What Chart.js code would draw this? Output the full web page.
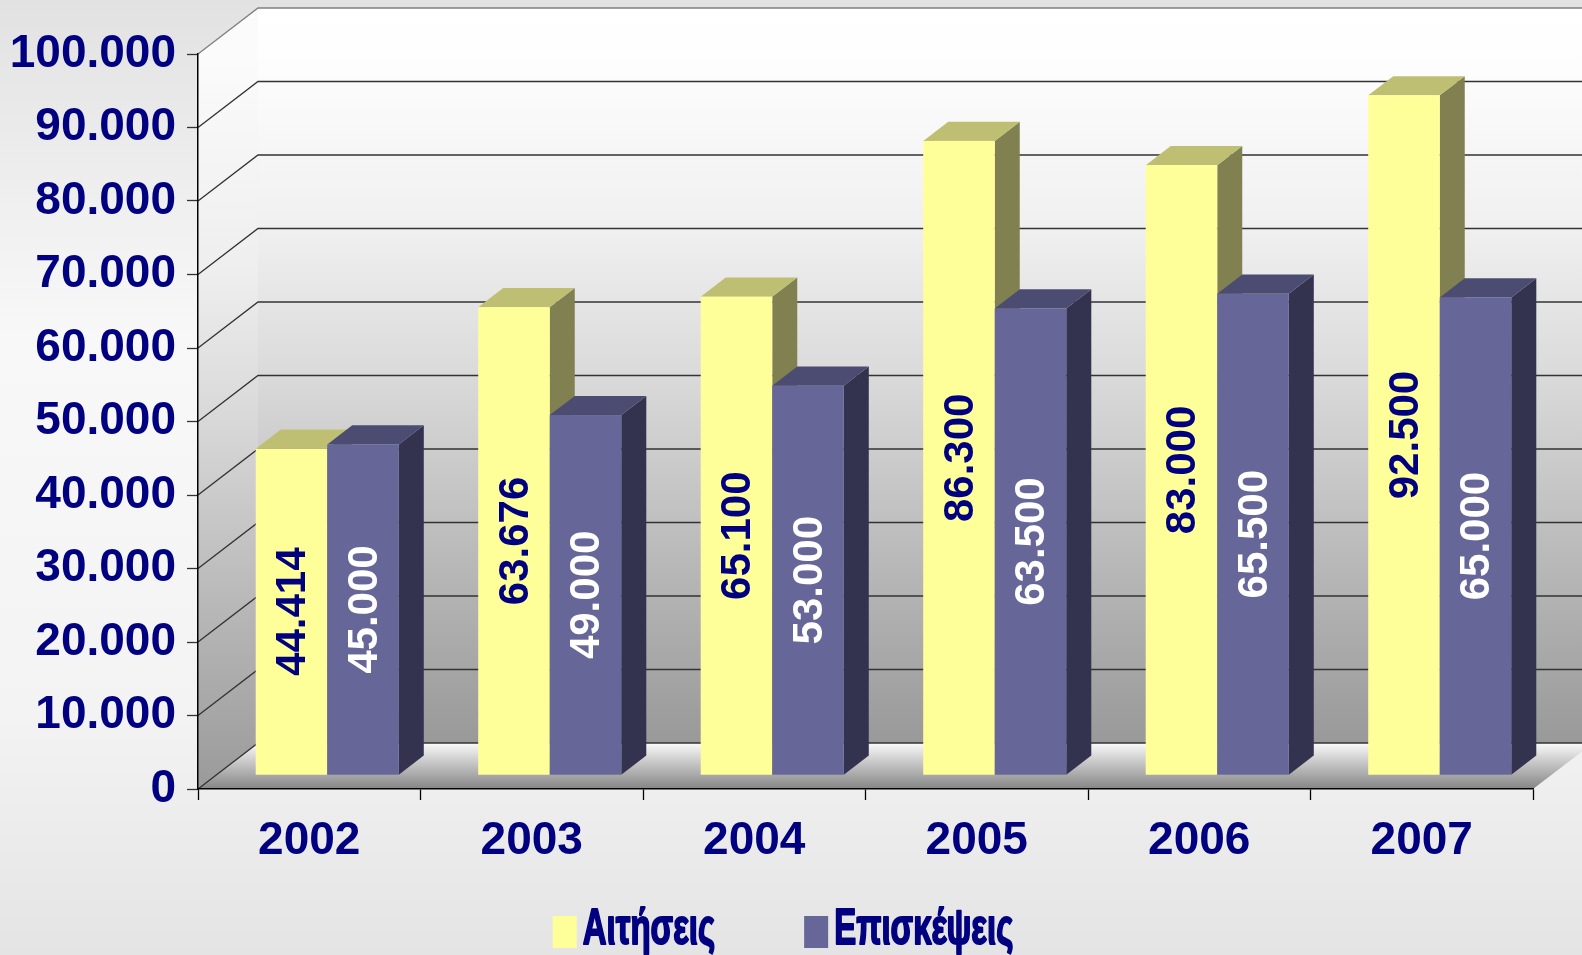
<!DOCTYPE html>
<html lang="el">
<head>
<meta charset="utf-8">
<title>Αιτήσεις - Επισκέψεις</title>
<script src="https://cdn.jsdelivr.net/npm/chart.js@4.4.1/dist/chart.umd.min.js"></script>
<style>
  html, body { margin: 0; padding: 0; overflow: hidden; background: #eeeeee; }
  canvas { display: block; }
</style>
</head>
<body>
<canvas id="grafima" width="1582" height="955"></canvas>
<script>
// --- Δεδομένα ---
const years = ['2002', '2003', '2004', '2005', '2006', '2007'];
const aitiseis = [44414, 63676, 65100, 86300, 83000, 92500];
const episkepseis = [45000, 49000, 53000, 63500, 65500, 65000];
const yTicks = [0, 10000, 20000, 30000, 40000, 50000, 60000, 70000, 80000, 90000, 100000];

// --- Στυλ ---
const NAVY = '#000080';
const FONT = "'Liberation Sans', Arial, sans-serif";
const yellow = { front: '#ffff99', top: '#bfbf73', side: '#808050', text: NAVY };
const purple = { front: '#666699', top: '#4c4c73', side: '#333350', text: '#ffffff' };
const depth = { dx: 60, dy: -46 };      // βάθος τοίχων
const barShift = 18;                    // πόσο πίσω στέκονται οι μπάρες
const barDepth = 25;

const fmt = v => String(v).replace(/\B(?=(\d{3})+(?!\d))/g, '.');
const k = depth.dy / depth.dx;

function box(ctx, x1, x2, top, base, c) {
    const ox = barShift, oy = barShift * k;
    const dx = barDepth, dy = barDepth * k;
    x1 += ox; x2 += ox; top += oy; base += oy;
    // πλαϊνή
    ctx.fillStyle = c.side;
    ctx.beginPath();
    ctx.moveTo(x2, top); ctx.lineTo(x2 + dx, top + dy);
    ctx.lineTo(x2 + dx, base + dy); ctx.lineTo(x2, base);
    ctx.closePath(); ctx.fill();
    // πάνω
    ctx.fillStyle = c.top;
    ctx.beginPath();
    ctx.moveTo(x1, top); ctx.lineTo(x1 + dx, top + dy);
    ctx.lineTo(x2 + dx, top + dy); ctx.lineTo(x2, top);
    ctx.closePath(); ctx.fill();
    // μπροστά
    ctx.fillStyle = c.front;
    ctx.fillRect(x1, top, x2 - x1, base - top);
    return { cx: (x1 + x2) / 2, cy: (top + base) / 2 };
}

const skini = {
    id: 'skini',
    beforeDraw(chart) {
        const ctx = chart.ctx;
        const { left, right, top, bottom } = chart.chartArea;
        const y = chart.scales.y;
        ctx.save();

        // φόντο
        let g = ctx.createLinearGradient(0, 0, 0, chart.height);
        g.addColorStop(0, '#e2e2e2');
        g.addColorStop(0.35, '#f8f8f8');
        g.addColorStop(0.75, '#f3f3f3');
        g.addColorStop(1, '#e4e4e4');
        ctx.fillStyle = g;
        ctx.fillRect(0, 0, chart.width, chart.height);

        const bx = left + depth.dx;
        const bTop = top + depth.dy, bBot = bottom + depth.dy;

        // τοίχοι
        g = ctx.createLinearGradient(0, bTop, 0, bBot);
        g.addColorStop(0, '#ffffff');
        g.addColorStop(0.08, '#fdfdfd');
        g.addColorStop(0.3, '#f0f0f0');
        g.addColorStop(0.5, '#dadada');
        g.addColorStop(0.75, '#b9b9b9');
        g.addColorStop(1, '#999999');
        ctx.fillStyle = g;
        ctx.fillRect(bx, bTop, right + depth.dx - bx, bBot - bTop);

        g = ctx.createLinearGradient(0, top, 0, bottom);
        g.addColorStop(0, '#fbfbfb');
        g.addColorStop(0.3, '#eeeeee');
        g.addColorStop(0.5, '#d8d8d8');
        g.addColorStop(0.75, '#b8b8b8');
        g.addColorStop(1, '#9a9a9a');
        ctx.fillStyle = g;
        ctx.beginPath();
        ctx.moveTo(left, top); ctx.lineTo(bx, bTop);
        ctx.lineTo(bx, bBot); ctx.lineTo(left, bottom);
        ctx.closePath(); ctx.fill();

        // δάπεδο
        g = ctx.createLinearGradient(0, bBot, 0, bottom);
        g.addColorStop(0, '#fafafa');
        g.addColorStop(0.35, '#d0d0d0');
        g.addColorStop(1, '#858585');
        ctx.fillStyle = g;
        ctx.beginPath();
        ctx.moveTo(left, bottom); ctx.lineTo(right, bottom);
        ctx.lineTo(right + depth.dx, bBot); ctx.lineTo(bx, bBot);
        ctx.closePath(); ctx.fill();

        // γραμμές πλέγματος
        yTicks.forEach(v => {
            const yy = y.getPixelForValue(v);
            ctx.strokeStyle = v === yTicks[yTicks.length - 1] ? '#808080' : '#333333';
            ctx.lineWidth = 1.3;
            ctx.beginPath();
            ctx.moveTo(left, yy);
            ctx.lineTo(bx, yy + depth.dy);
            ctx.lineTo(right + depth.dx, yy + depth.dy);
            ctx.stroke();
        });
        ctx.restore();
    },
    beforeDatasetsDraw(chart) {
        const ctx = chart.ctx;
        const sets = [yellow, purple];
        ctx.save();
        years.forEach((yr, i) => {
            sets.forEach((c, d) => {
                const el = chart.getDatasetMeta(d).data[i];
                const x1 = el.x - el.width / 2, x2 = el.x + el.width / 2;
                const p = box(ctx, x1, x2, el.y, el.base, c);
                const val = chart.data.datasets[d].data[i];
                ctx.save();
                ctx.translate(p.cx, p.cy);
                ctx.rotate(-Math.PI / 2);
                ctx.fillStyle = c.text;
                ctx.font = 'bold 42px ' + FONT;
                ctx.textAlign = 'center';
                ctx.textBaseline = 'middle';
                ctx.fillText(fmt(val), 0, 2);
                ctx.restore();
            });
        });
        ctx.restore();
        return false;
    },
    afterDraw(chart) {
        // υπόμνημα (στενή γραμματοσειρά -> οριζόντια συμπίεση)
        const ctx = chart.ctx;
        const squeeze = 0.66;
        ctx.save();
        ctx.font = 'bold 50px ' + FONT;
        ctx.textBaseline = 'alphabetic';
        const items = chart.data.datasets.map((ds, d) => ({ label: ds.label, color: [yellow, purple][d].front }));
        const widths = items.map(it => ctx.measureText(it.label).width * squeeze);
        const total = items.length * 30 + widths.reduce((a, b) => a + b, 0) + 89;
        let x = chart.width / 2 - total / 2 - 8;
        items.forEach((it, j) => {
            ctx.fillStyle = it.color;
            ctx.fillRect(x, 916, 24, 32);
            ctx.save();
            ctx.translate(x + 30, 944);
            ctx.scale(squeeze, 1);
            ctx.fillStyle = NAVY;
            ctx.strokeStyle = NAVY;
            ctx.lineWidth = 2;
            ctx.lineJoin = 'round';
            ctx.strokeText(it.label, 0, 0);
            ctx.fillText(it.label, 0, 0);
            ctx.restore();
            x += 30 + widths[j] + 89;
        });
        ctx.restore();
    }
};

new Chart(document.getElementById('grafima'), {
    type: 'bar',
    data: {
        labels: years,
        datasets: [
            { label: 'Αιτήσεις', data: aitiseis, backgroundColor: yellow.front },
            { label: 'Επισκέψεις', data: episkepseis, backgroundColor: purple.front }
        ]
    },
    options: {
        responsive: false,
        animation: false,
        devicePixelRatio: 1,
        layout: { padding: { top: 54, right: 49, left: 0, bottom: 0 } },
        datasets: { bar: { categoryPercentage: 0.643, barPercentage: 1 } },
        plugins: { legend: { display: false }, tooltip: { enabled: false } },
        scales: {
            x: {
                afterFit(s) { s.height = 166; },
                grid: { drawOnChartArea: false, tickLength: 11, tickColor: '#000', tickWidth: 1.3 },
                border: { color: '#000', width: 1.5 },
                ticks: { color: NAVY, font: { family: FONT, size: 46, weight: 'bold' }, padding: 14 }
            },
            y: {
                min: 0,
                max: 100000,
                afterFit(s) { s.width = 198; },
                afterBuildTicks(s) { s.ticks = yTicks.map(v => ({ value: v })); },
                grid: { drawOnChartArea: false, tickLength: 11, tickColor: '#333', tickWidth: 1.3 },
                border: { color: '#000', width: 1.5 },
                ticks: {
                    color: NAVY,
                    font: { family: FONT, size: 46, weight: 'bold' },
                    padding: 11,
                    callback: v => fmt(v)
                }
            }
        }
    },
    plugins: [skini]
});
</script>
</body>
</html>
